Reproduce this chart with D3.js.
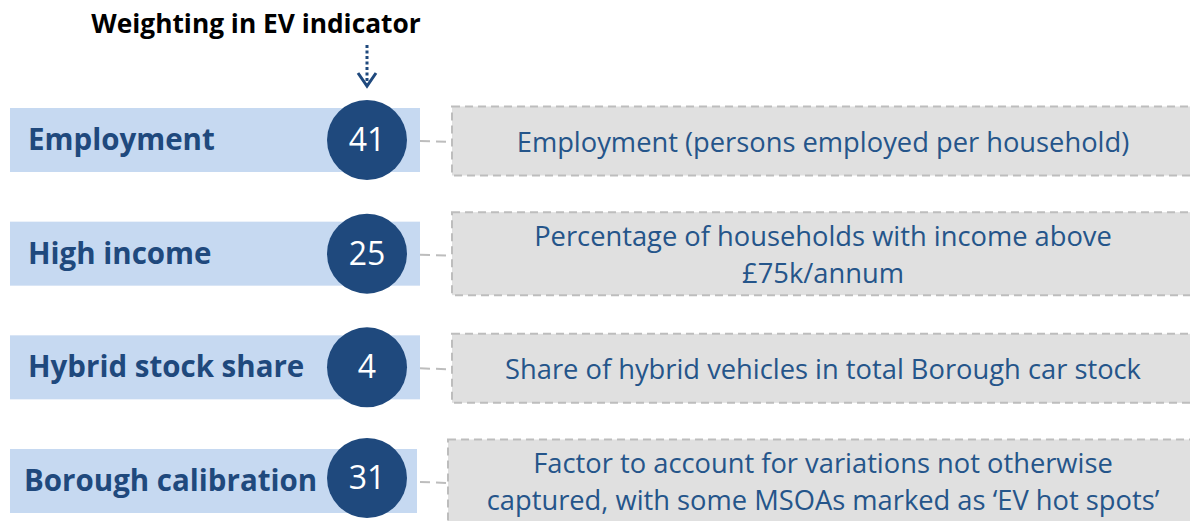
<!DOCTYPE html>
<html>
<head>
<meta charset="utf-8">
<script src="https://cdn.jsdelivr.net/npm/d3@7"></script>
<style>
  body { margin: 0; background: #fff; }
  svg { display: block; font-family: "Open Sans", sans-serif; }
</style>
</head>
<body>
<svg width="1190" height="521"></svg>
<script>
const categories = ["Employment", "High income", "Hybrid stock share", "Borough calibration"];
const weights = [41, 25, 4, 31];
const descriptions = [
  ["Employment (persons employed per household)"],
  ["Percentage of households with income above", "£75k/annum"],
  ["Share of hybrid vehicles in total Borough car stock"],
  ["Factor to account for variations not otherwise", "captured, with some MSOAs marked as \u2018EV hot spots\u2019"]
];
const title = "Weighting in EV indicator";

const svg = d3.select("svg");
const width = +svg.attr("width");
const height = +svg.attr("height");

const darkBlue = "#1f497d";
const lightBlue = "#c6d9f1";
const boxFill = "#e0e0e0";
const boxStroke = "#bdbdbd";

const rows = categories.map((c, i) => ({ name: c, weight: weights[i], desc: descriptions[i] }));

const y = d3.scalePoint()
  .domain(categories)
  .range([140, 481]);

const barX0 = 10, barX1 = 420, barH = 64;
const circleX = 367, r = 40;
const boxX = 452, boxX1 = 1196;
const lineH = 37;

// header + arrow
svg.append("text")
  .attr("x", 256)
  .attr("y", 33)
  .attr("text-anchor", "middle")
  .style("font-size", "26.3px")
  .style("font-weight", "bold")
  .attr("fill", "#000")
  .text(title);

svg.append("line")
  .attr("x1", circleX).attr("x2", circleX)
  .attr("y1", 45).attr("y2", 84)
  .attr("stroke", darkBlue)
  .attr("stroke-width", 3)
  .attr("stroke-dasharray", "3,2.5");

svg.append("path")
  .attr("d", `M${circleX - 9},${73} L${circleX},${86} L${circleX + 9},${73}`)
  .attr("fill", "none")
  .attr("stroke", darkBlue)
  .attr("stroke-width", 3);

const row = svg.selectAll("g.row")
  .data(rows)
  .enter()
  .append("g")
  .attr("class", "row");

// description boxes
const twoLine = d => d.desc.length > 1;
const boxH = d => twoLine(d) ? 83 : 69;
const boxCy = d => y(d.name) + (twoLine(d) ? 0 : 1);
const boxLeft = d => boxX - (d.name === "Borough calibration" ? 4 : 0);

row.append("line")
  .attr("x1", barX1)
  .attr("x2", boxLeft)
  .attr("y1", d => y(d.name) + 1)
  .attr("y2", d => y(d.name) + 2)
  .attr("stroke", boxStroke)
  .attr("stroke-width", 2)
  .attr("stroke-dasharray", "10,6");

row.append("rect")
  .attr("x", boxLeft)
  .attr("y", d => boxCy(d) - boxH(d) / 2)
  .attr("width", boxX1 - boxX)
  .attr("height", boxH)
  .attr("fill", boxFill)
  .attr("stroke", boxStroke)
  .attr("stroke-width", 2)
  .attr("stroke-dasharray", "8,5");

row.append("text")
  .attr("text-anchor", "middle")
  .attr("fill", "#25558a")
  .style("font-size", "27.3px")
  .each(function(d) {
    const t = d3.select(this);
    const n = d.desc.length;
    const mid = y(d.name) + (twoLine(d) ? 10.5 : 12);
    d.desc.forEach((line, j) => {
      t.append("tspan")
        .attr("x", 823)
        .attr("y", mid + (j - (n - 1) / 2) * lineH)
        .text(line);
    });
  });

// bars + labels
row.append("rect")
  .attr("x", barX0)
  .attr("y", d => y(d.name) - barH / 2)
  .attr("width", d => (d.name === "Borough calibration" ? barX1 - 3 : barX1) - barX0)
  .attr("height", barH)
  .attr("fill", lightBlue);

row.append("text")
  .attr("x", d => d.name === "Borough calibration" ? 24 : 28)
  .attr("y", d => y(d.name) + 10)
  .attr("fill", darkBlue)
  .style("font-size", "29.5px")
  .style("font-weight", "bold")
  .text(d => d.name);

// weight circles
const circleY = d => y(d.name) - (d.name === "Borough calibration" ? 3 : 0);

row.append("circle")
  .attr("cx", circleX)
  .attr("cy", circleY)
  .attr("r", r)
  .attr("fill", darkBlue);

row.append("text")
  .attr("x", circleX)
  .attr("y", d => circleY(d) + 11)
  .attr("text-anchor", "middle")
  .attr("fill", "#fff")
  .style("font-size", "32px")
  .text(d => d.weight);
</script>
</body>
</html>
